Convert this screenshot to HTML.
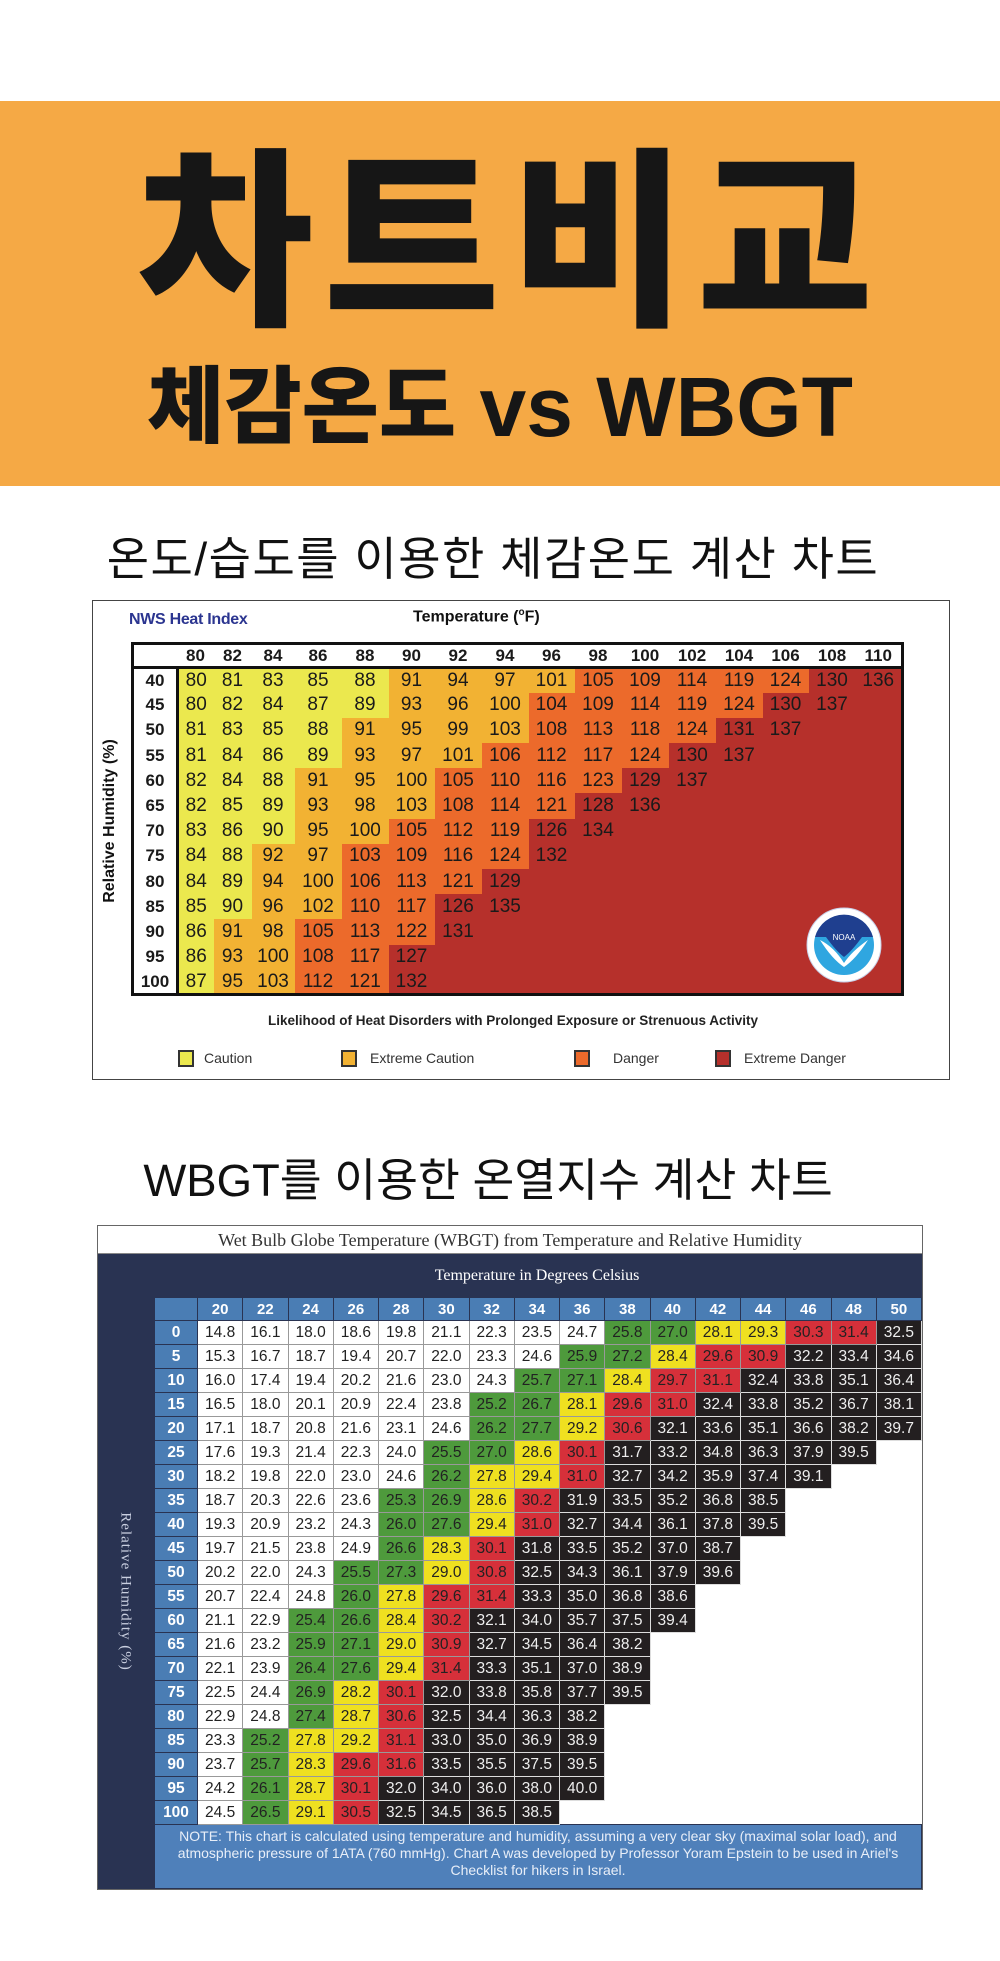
<!DOCTYPE html>
<html><head><meta charset="utf-8">
<style>
*{margin:0;padding:0;box-sizing:border-box}
body{width:1000px;height:1961px;background:#fff;position:relative;overflow:hidden;font-family:"Liberation Sans","Noto Sans CJK KR",sans-serif}
.abs{position:absolute}
.kr{font-family:"Liberation Sans","Noto Sans CJK KR",sans-serif}
#banner{left:0;top:101px;width:1000px;height:385px;background:#f5a945}
#t1{left:10px;width:1000px;top:148px;text-align:center;font-size:192px;line-height:192px;font-weight:900;color:#161616;letter-spacing:10px}
#t2{left:0;width:1000px;top:365px;text-align:center;font-size:84px;line-height:84px;font-weight:900;color:#161616}
.sub{left:0;width:1000px;text-align:center;color:#111}
#hbox{left:92px;top:600px;width:858px;height:480px;border:1px solid #444}
#ht{position:absolute;left:131px;top:642px;width:770px;border-collapse:collapse;table-layout:fixed;border:3px solid #111;font-size:19px;color:#1a1a1a}
#ht td{height:25.2px;text-align:center;padding:0;white-space:nowrap}
#ht tr.h td{height:24px;font-weight:bold;font-size:17px;background:#fff;border-bottom:3px solid #111}
#ht td.l{background:#fff;font-weight:bold;font-size:17px;border-right:3px solid #111}
.c{background:#ebe84e}.e{background:#f2b233}.d{background:#ec6a2b}.x{background:#b6302b}
#wbox{left:97px;top:1225px;width:826px;height:665px;background:#293352;border:1px solid #666}
#wt{position:absolute;left:154px;top:1297px;width:767px;border-collapse:collapse;table-layout:fixed;font-family:"Liberation Sans",sans-serif;font-size:15.5px}
#wt td{height:24px;text-align:center;padding:0;border:1px solid #999;color:#222}
#wt tr.h td{height:23px;background:#4a7db4;color:#fff;border:1px solid #293352;font-size:15px;font-weight:bold}
#wt td.l{background:#4a7db4;color:#fff;font-weight:bold;border:1px solid #293352}
#wt td.w{background:#fff}
#wt td.g{background:#4e9a3c}
#wt td.y{background:#efe020}
#wt td.r{background:#d6303a}
#wt td.b{background:#231f20;color:#eee;border:1px solid #ddd}
#wt td.n{background:#fff;border:none}
#wt td.note{background:#4f80ba;color:#e8eef8;font-family:"Liberation Sans",sans-serif;font-size:14px;line-height:17px;height:64px;border:1px solid #293352;padding:2px 4px 8px;white-space:nowrap}
</style></head><body>

<div class="abs" id="banner"></div>
<div class="abs kr" id="t1">차트비교</div>
<div class="abs kr" id="t2">체감온도 vs WBGT</div>
<div class="abs sub kr" style="top:536px;left:-7px;font-size:46px;line-height:46px;letter-spacing:1.5px">온도/습도를 이용한 체감온도 계산 차트</div>
<div class="abs sub kr" style="top:1158px;left:-12px;font-size:45.5px;line-height:46px">WBGT를 이용한 온열지수 계산 차트</div>

<!-- Heat index -->
<div class="abs" id="hbox"></div>
<div class="abs" style="left:129px;top:611px;font-size:16px;font-weight:bold;color:#2b3590;letter-spacing:-0.3px">NWS Heat Index</div>
<div class="abs" style="left:413px;top:607px;font-size:16px;font-weight:bold;color:#111">Temperature (<sup style="font-size:10px">o</sup>F)</div>
<div class="abs" style="left:20px;top:812px;width:180px;text-align:center;transform:rotate(-90deg);font-size:16px;font-weight:bold;color:#111">Relative Humidity (%)</div>

<table id="ht">
<colgroup><col style="width:45px"><col style="width:36px"><col style="width:38px"><col style="width:43px"><col style="width:47px"><col style="width:47px"><col style="width:46px"><col style="width:47px"><col style="width:47px"><col style="width:46px"><col style="width:47px"><col style="width:47px"><col style="width:47px"><col style="width:47px"><col style="width:46px"><col style="width:47px"><col style="width:47px"></colgroup>
<tr class="h"><td></td><td>80</td><td>82</td><td>84</td><td>86</td><td>88</td><td>90</td><td>92</td><td>94</td><td>96</td><td>98</td><td>100</td><td>102</td><td>104</td><td>106</td><td>108</td><td>110</td></tr>
<tr><td class="l">40</td><td class="c">80</td><td class="c">81</td><td class="c">83</td><td class="c">85</td><td class="c">88</td><td class="e">91</td><td class="e">94</td><td class="e">97</td><td class="e">101</td><td class="d">105</td><td class="d">109</td><td class="d">114</td><td class="d">119</td><td class="d">124</td><td class="x">130</td><td class="x">136</td></tr>
<tr><td class="l">45</td><td class="c">80</td><td class="c">82</td><td class="c">84</td><td class="c">87</td><td class="c">89</td><td class="e">93</td><td class="e">96</td><td class="e">100</td><td class="d">104</td><td class="d">109</td><td class="d">114</td><td class="d">119</td><td class="d">124</td><td class="x">130</td><td class="x">137</td><td class="x"></td></tr>
<tr><td class="l">50</td><td class="c">81</td><td class="c">83</td><td class="c">85</td><td class="c">88</td><td class="e">91</td><td class="e">95</td><td class="e">99</td><td class="e">103</td><td class="d">108</td><td class="d">113</td><td class="d">118</td><td class="d">124</td><td class="x">131</td><td class="x">137</td><td class="x"></td><td class="x"></td></tr>
<tr><td class="l">55</td><td class="c">81</td><td class="c">84</td><td class="c">86</td><td class="c">89</td><td class="e">93</td><td class="e">97</td><td class="e">101</td><td class="d">106</td><td class="d">112</td><td class="d">117</td><td class="d">124</td><td class="x">130</td><td class="x">137</td><td class="x"></td><td class="x"></td><td class="x"></td></tr>
<tr><td class="l">60</td><td class="c">82</td><td class="c">84</td><td class="c">88</td><td class="e">91</td><td class="e">95</td><td class="e">100</td><td class="d">105</td><td class="d">110</td><td class="d">116</td><td class="d">123</td><td class="x">129</td><td class="x">137</td><td class="x"></td><td class="x"></td><td class="x"></td><td class="x"></td></tr>
<tr><td class="l">65</td><td class="c">82</td><td class="c">85</td><td class="c">89</td><td class="e">93</td><td class="e">98</td><td class="e">103</td><td class="d">108</td><td class="d">114</td><td class="d">121</td><td class="x">128</td><td class="x">136</td><td class="x"></td><td class="x"></td><td class="x"></td><td class="x"></td><td class="x"></td></tr>
<tr><td class="l">70</td><td class="c">83</td><td class="c">86</td><td class="c">90</td><td class="e">95</td><td class="e">100</td><td class="d">105</td><td class="d">112</td><td class="d">119</td><td class="x">126</td><td class="x">134</td><td class="x"></td><td class="x"></td><td class="x"></td><td class="x"></td><td class="x"></td><td class="x"></td></tr>
<tr><td class="l">75</td><td class="c">84</td><td class="c">88</td><td class="e">92</td><td class="e">97</td><td class="d">103</td><td class="d">109</td><td class="d">116</td><td class="d">124</td><td class="x">132</td><td class="x"></td><td class="x"></td><td class="x"></td><td class="x"></td><td class="x"></td><td class="x"></td><td class="x"></td></tr>
<tr><td class="l">80</td><td class="c">84</td><td class="c">89</td><td class="e">94</td><td class="e">100</td><td class="d">106</td><td class="d">113</td><td class="d">121</td><td class="x">129</td><td class="x"></td><td class="x"></td><td class="x"></td><td class="x"></td><td class="x"></td><td class="x"></td><td class="x"></td><td class="x"></td></tr>
<tr><td class="l">85</td><td class="c">85</td><td class="c">90</td><td class="e">96</td><td class="e">102</td><td class="d">110</td><td class="d">117</td><td class="x">126</td><td class="x">135</td><td class="x"></td><td class="x"></td><td class="x"></td><td class="x"></td><td class="x"></td><td class="x"></td><td class="x"></td><td class="x"></td></tr>
<tr><td class="l">90</td><td class="c">86</td><td class="e">91</td><td class="e">98</td><td class="d">105</td><td class="d">113</td><td class="d">122</td><td class="x">131</td><td class="x"></td><td class="x"></td><td class="x"></td><td class="x"></td><td class="x"></td><td class="x"></td><td class="x"></td><td class="x"></td><td class="x"></td></tr>
<tr><td class="l">95</td><td class="c">86</td><td class="e">93</td><td class="e">100</td><td class="d">108</td><td class="d">117</td><td class="x">127</td><td class="x"></td><td class="x"></td><td class="x"></td><td class="x"></td><td class="x"></td><td class="x"></td><td class="x"></td><td class="x"></td><td class="x"></td><td class="x"></td></tr>
<tr><td class="l">100</td><td class="c">87</td><td class="e">95</td><td class="e">103</td><td class="d">112</td><td class="d">121</td><td class="x">132</td><td class="x"></td><td class="x"></td><td class="x"></td><td class="x"></td><td class="x"></td><td class="x"></td><td class="x"></td><td class="x"></td><td class="x"></td><td class="x"></td></tr>
</table>

<svg class="abs" style="left:806px;top:907px" width="76" height="76" viewBox="0 0 76 76">
<circle cx="38" cy="38" r="37" fill="#fff" stroke="#c8d0e8" stroke-width="1"/>
<circle cx="38" cy="38" r="30" fill="#2fa6e0"/>
<path d="M9 30 A30 30 0 0 1 67 30 L56 30 Q46 44 38 50 Q30 44 20 30 Z" fill="#1f3f8f"/>
<path d="M14 33 Q28 40 38 56 Q46 44 62 33 Q50 52 38 60 Q26 52 14 33Z" fill="#fff"/>
<text x="38" y="33" font-size="8" fill="#fff" text-anchor="middle" font-family="Liberation Sans">NOAA</text>
</svg>

<div class="abs" style="left:90px;width:846px;top:1013px;text-align:center;font-size:13.5px;font-weight:bold;color:#222">Likelihood of Heat Disorders with Prolonged Exposure or Strenuous Activity</div>
<div class="abs c" style="left:178px;top:1050px;width:16px;height:17px;border:2px solid #333"></div>
<div class="abs" style="left:204px;top:1050px;font-size:14px;color:#333">Caution</div>
<div class="abs e" style="left:341px;top:1050px;width:16px;height:17px;border:2px solid #333"></div>
<div class="abs" style="left:370px;top:1050px;font-size:14px;color:#333">Extreme Caution</div>
<div class="abs d" style="left:574px;top:1050px;width:16px;height:17px;border:2px solid #333"></div>
<div class="abs" style="left:613px;top:1050px;font-size:14px;color:#333">Danger</div>
<div class="abs x" style="left:715px;top:1050px;width:16px;height:17px;border:2px solid #333"></div>
<div class="abs" style="left:744px;top:1050px;font-size:14px;color:#333">Extreme Danger</div>

<!-- WBGT -->
<div class="abs" id="wbox"></div>
<div class="abs" style="left:98px;top:1226px;width:824px;height:28px;background:#fff;border-bottom:1px solid #888;text-align:center;font-family:'Liberation Serif',serif;font-size:18px;line-height:28px;color:#333">Wet Bulb Globe Temperature (WBGT) from Temperature and Relative Humidity</div>
<div class="abs" style="left:154px;width:766px;top:1267px;text-align:center;font-family:'Liberation Serif',serif;font-size:16px;color:#fff">Temperature in Degrees Celsius</div>
<div class="abs" style="left:35px;top:1583px;width:180px;text-align:center;transform:rotate(90deg);font-family:'Liberation Serif',serif;font-size:15px;color:#c9cfe0;letter-spacing:1px">Relative Humidity (%)</div>

<table id="wt">
<colgroup><col style="width:43px"><col span="16" style="width:45.25px"></colgroup>
<tr class="h"><td></td><td>20</td><td>22</td><td>24</td><td>26</td><td>28</td><td>30</td><td>32</td><td>34</td><td>36</td><td>38</td><td>40</td><td>42</td><td>44</td><td>46</td><td>48</td><td>50</td></tr>
<tr><td class="l">0</td><td class="w">14.8</td><td class="w">16.1</td><td class="w">18.0</td><td class="w">18.6</td><td class="w">19.8</td><td class="w">21.1</td><td class="w">22.3</td><td class="w">23.5</td><td class="w">24.7</td><td class="g">25.8</td><td class="g">27.0</td><td class="y">28.1</td><td class="y">29.3</td><td class="r">30.3</td><td class="r">31.4</td><td class="b">32.5</td></tr>
<tr><td class="l">5</td><td class="w">15.3</td><td class="w">16.7</td><td class="w">18.7</td><td class="w">19.4</td><td class="w">20.7</td><td class="w">22.0</td><td class="w">23.3</td><td class="w">24.6</td><td class="g">25.9</td><td class="g">27.2</td><td class="y">28.4</td><td class="r">29.6</td><td class="r">30.9</td><td class="b">32.2</td><td class="b">33.4</td><td class="b">34.6</td></tr>
<tr><td class="l">10</td><td class="w">16.0</td><td class="w">17.4</td><td class="w">19.4</td><td class="w">20.2</td><td class="w">21.6</td><td class="w">23.0</td><td class="w">24.3</td><td class="g">25.7</td><td class="g">27.1</td><td class="y">28.4</td><td class="r">29.7</td><td class="r">31.1</td><td class="b">32.4</td><td class="b">33.8</td><td class="b">35.1</td><td class="b">36.4</td></tr>
<tr><td class="l">15</td><td class="w">16.5</td><td class="w">18.0</td><td class="w">20.1</td><td class="w">20.9</td><td class="w">22.4</td><td class="w">23.8</td><td class="g">25.2</td><td class="g">26.7</td><td class="y">28.1</td><td class="r">29.6</td><td class="r">31.0</td><td class="b">32.4</td><td class="b">33.8</td><td class="b">35.2</td><td class="b">36.7</td><td class="b">38.1</td></tr>
<tr><td class="l">20</td><td class="w">17.1</td><td class="w">18.7</td><td class="w">20.8</td><td class="w">21.6</td><td class="w">23.1</td><td class="w">24.6</td><td class="g">26.2</td><td class="g">27.7</td><td class="y">29.2</td><td class="r">30.6</td><td class="b">32.1</td><td class="b">33.6</td><td class="b">35.1</td><td class="b">36.6</td><td class="b">38.2</td><td class="b">39.7</td></tr>
<tr><td class="l">25</td><td class="w">17.6</td><td class="w">19.3</td><td class="w">21.4</td><td class="w">22.3</td><td class="w">24.0</td><td class="g">25.5</td><td class="g">27.0</td><td class="y">28.6</td><td class="r">30.1</td><td class="b">31.7</td><td class="b">33.2</td><td class="b">34.8</td><td class="b">36.3</td><td class="b">37.9</td><td class="b">39.5</td><td class="n"></td></tr>
<tr><td class="l">30</td><td class="w">18.2</td><td class="w">19.8</td><td class="w">22.0</td><td class="w">23.0</td><td class="w">24.6</td><td class="g">26.2</td><td class="y">27.8</td><td class="y">29.4</td><td class="r">31.0</td><td class="b">32.7</td><td class="b">34.2</td><td class="b">35.9</td><td class="b">37.4</td><td class="b">39.1</td><td class="n"></td><td class="n"></td></tr>
<tr><td class="l">35</td><td class="w">18.7</td><td class="w">20.3</td><td class="w">22.6</td><td class="w">23.6</td><td class="g">25.3</td><td class="g">26.9</td><td class="y">28.6</td><td class="r">30.2</td><td class="b">31.9</td><td class="b">33.5</td><td class="b">35.2</td><td class="b">36.8</td><td class="b">38.5</td><td class="n"></td><td class="n"></td><td class="n"></td></tr>
<tr><td class="l">40</td><td class="w">19.3</td><td class="w">20.9</td><td class="w">23.2</td><td class="w">24.3</td><td class="g">26.0</td><td class="g">27.6</td><td class="y">29.4</td><td class="r">31.0</td><td class="b">32.7</td><td class="b">34.4</td><td class="b">36.1</td><td class="b">37.8</td><td class="b">39.5</td><td class="n"></td><td class="n"></td><td class="n"></td></tr>
<tr><td class="l">45</td><td class="w">19.7</td><td class="w">21.5</td><td class="w">23.8</td><td class="w">24.9</td><td class="g">26.6</td><td class="y">28.3</td><td class="r">30.1</td><td class="b">31.8</td><td class="b">33.5</td><td class="b">35.2</td><td class="b">37.0</td><td class="b">38.7</td><td class="n"></td><td class="n"></td><td class="n"></td><td class="n"></td></tr>
<tr><td class="l">50</td><td class="w">20.2</td><td class="w">22.0</td><td class="w">24.3</td><td class="g">25.5</td><td class="g">27.3</td><td class="y">29.0</td><td class="r">30.8</td><td class="b">32.5</td><td class="b">34.3</td><td class="b">36.1</td><td class="b">37.9</td><td class="b">39.6</td><td class="n"></td><td class="n"></td><td class="n"></td><td class="n"></td></tr>
<tr><td class="l">55</td><td class="w">20.7</td><td class="w">22.4</td><td class="w">24.8</td><td class="g">26.0</td><td class="y">27.8</td><td class="r">29.6</td><td class="r">31.4</td><td class="b">33.3</td><td class="b">35.0</td><td class="b">36.8</td><td class="b">38.6</td><td class="n"></td><td class="n"></td><td class="n"></td><td class="n"></td><td class="n"></td></tr>
<tr><td class="l">60</td><td class="w">21.1</td><td class="w">22.9</td><td class="g">25.4</td><td class="g">26.6</td><td class="y">28.4</td><td class="r">30.2</td><td class="b">32.1</td><td class="b">34.0</td><td class="b">35.7</td><td class="b">37.5</td><td class="b">39.4</td><td class="n"></td><td class="n"></td><td class="n"></td><td class="n"></td><td class="n"></td></tr>
<tr><td class="l">65</td><td class="w">21.6</td><td class="w">23.2</td><td class="g">25.9</td><td class="g">27.1</td><td class="y">29.0</td><td class="r">30.9</td><td class="b">32.7</td><td class="b">34.5</td><td class="b">36.4</td><td class="b">38.2</td><td class="n"></td><td class="n"></td><td class="n"></td><td class="n"></td><td class="n"></td><td class="n"></td></tr>
<tr><td class="l">70</td><td class="w">22.1</td><td class="w">23.9</td><td class="g">26.4</td><td class="g">27.6</td><td class="y">29.4</td><td class="r">31.4</td><td class="b">33.3</td><td class="b">35.1</td><td class="b">37.0</td><td class="b">38.9</td><td class="n"></td><td class="n"></td><td class="n"></td><td class="n"></td><td class="n"></td><td class="n"></td></tr>
<tr><td class="l">75</td><td class="w">22.5</td><td class="w">24.4</td><td class="g">26.9</td><td class="y">28.2</td><td class="r">30.1</td><td class="b">32.0</td><td class="b">33.8</td><td class="b">35.8</td><td class="b">37.7</td><td class="b">39.5</td><td class="n"></td><td class="n"></td><td class="n"></td><td class="n"></td><td class="n"></td><td class="n"></td></tr>
<tr><td class="l">80</td><td class="w">22.9</td><td class="w">24.8</td><td class="g">27.4</td><td class="y">28.7</td><td class="r">30.6</td><td class="b">32.5</td><td class="b">34.4</td><td class="b">36.3</td><td class="b">38.2</td><td class="n"></td><td class="n"></td><td class="n"></td><td class="n"></td><td class="n"></td><td class="n"></td><td class="n"></td></tr>
<tr><td class="l">85</td><td class="w">23.3</td><td class="g">25.2</td><td class="y">27.8</td><td class="y">29.2</td><td class="r">31.1</td><td class="b">33.0</td><td class="b">35.0</td><td class="b">36.9</td><td class="b">38.9</td><td class="n"></td><td class="n"></td><td class="n"></td><td class="n"></td><td class="n"></td><td class="n"></td><td class="n"></td></tr>
<tr><td class="l">90</td><td class="w">23.7</td><td class="g">25.7</td><td class="y">28.3</td><td class="r">29.6</td><td class="r">31.6</td><td class="b">33.5</td><td class="b">35.5</td><td class="b">37.5</td><td class="b">39.5</td><td class="n"></td><td class="n"></td><td class="n"></td><td class="n"></td><td class="n"></td><td class="n"></td><td class="n"></td></tr>
<tr><td class="l">95</td><td class="w">24.2</td><td class="g">26.1</td><td class="y">28.7</td><td class="r">30.1</td><td class="b">32.0</td><td class="b">34.0</td><td class="b">36.0</td><td class="b">38.0</td><td class="b">40.0</td><td class="n"></td><td class="n"></td><td class="n"></td><td class="n"></td><td class="n"></td><td class="n"></td><td class="n"></td></tr>
<tr><td class="l">100</td><td class="w">24.5</td><td class="g">26.5</td><td class="y">29.1</td><td class="r">30.5</td><td class="b">32.5</td><td class="b">34.5</td><td class="b">36.5</td><td class="b">38.5</td><td class="n"></td><td class="n"></td><td class="n"></td><td class="n"></td><td class="n"></td><td class="n"></td><td class="n"></td><td class="n"></td></tr>
<tr><td class="note" colspan="17">NOTE: This chart is calculated using temperature and humidity, assuming a very clear sky (maximal solar load), and<br>atmospheric pressure of 1ATA (760 mmHg). Chart A was developed by Professor Yoram Epstein to be used in Ariel's<br>Checklist for hikers in Israel.</td></tr>
</table>

</body></html>
